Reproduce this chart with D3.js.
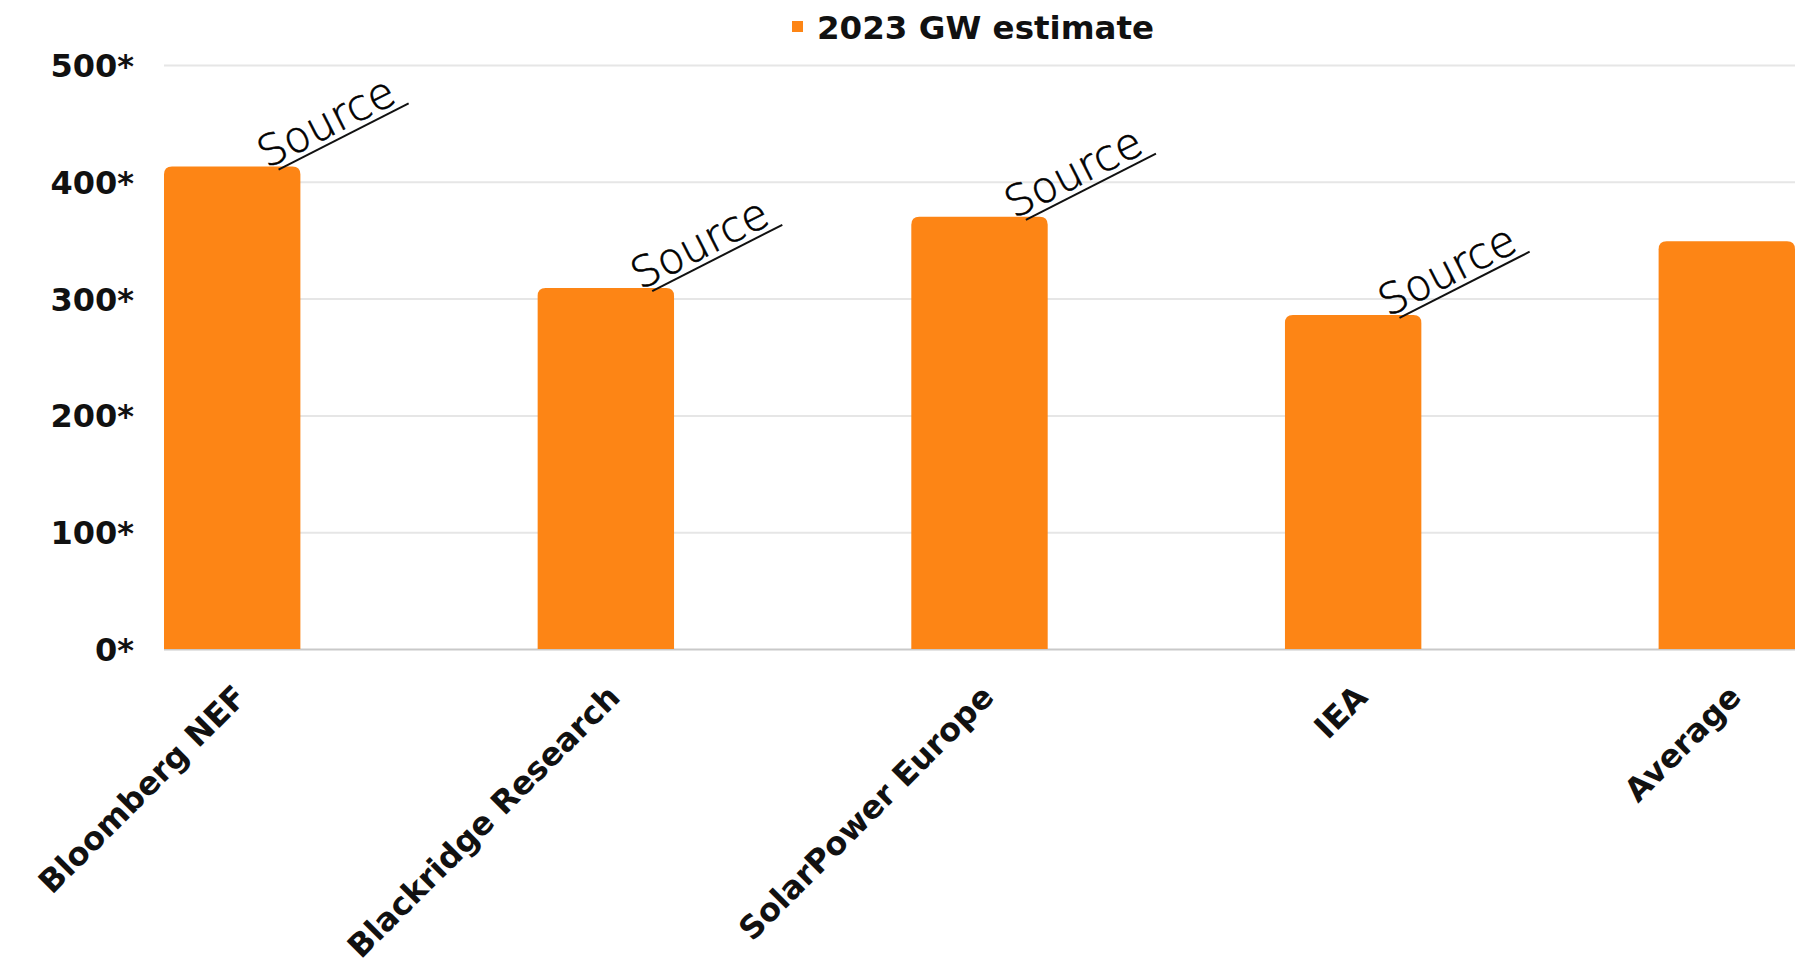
<!DOCTYPE html>
<html>
<head>
<meta charset="utf-8">
<script src="https://cdn.jsdelivr.net/npm/d3@7"></script>
<style>
  body { margin: 0; background: #fff; }
  svg { display: block; }
  .bold { font-family: 'DejaVu Sans', sans-serif; font-weight: bold; fill: #111; }
</style>
</head>
<body>
<svg class="bar-chart"></svg>
<script>
const categories = ['Bloomberg NEF', 'Blackridge Research', 'SolarPower Europe', 'IEA', 'Average'];
const gwEstimate = [413, 309, 370, 286, 349];
const sourceLinks = ['Source', 'Source', 'Source', 'Source', null];
const yTicks = [0, 100, 200, 300, 400, 500];
const seriesName = '2023 GW estimate';

const width = 1799,
      height = 969;

const plotLeft = 164,
      plotRight = 1795,
      plotTop = 65,
      plotBottom = 649;

const orange = '#fd8515';

const chart = d3.select('.bar-chart')
                .attr('width', width)
                .attr('height', height);

const xScale = d3.scaleBand()
                 .domain(categories)
                 .range([plotLeft, plotRight])
                 .paddingInner(0.635)
                 .paddingOuter(0);

const yScale = d3.scaleLinear()
                 .domain([0, 500])
                 .range([plotBottom, plotTop]);

// gridlines + y labels
const yAxis = d3.axisLeft(yScale)
                .tickValues(yTicks)
                .tickSize(-(plotRight - plotLeft))
                .tickPadding(30)
                .tickFormat(d => d + '*');

const yAxisG = chart.append('g')
                    .attr('transform', 'translate(' + plotLeft + ', 0)')
                    .call(yAxis);

yAxisG.select('.domain').remove();
yAxisG.selectAll('line')
      .attr('stroke', d => d === 0 ? '#c9c9c9' : '#e6e6e6')
      .attr('stroke-width', 2);
yAxisG.selectAll('text')
      .attr('class', 'bold')
      .attr('font-size', 32)
      .attr('dy', '0.36em');

// bars with rounded tops
const r = 8;
chart.selectAll('path.bar')
     .data(gwEstimate)
     .enter()
     .append('path')
     .attr('class', 'bar')
     .attr('fill', orange)
     .attr('d', (d, i) => {
       const x0 = xScale(categories[i]);
       const x1 = x0 + xScale.bandwidth();
       const y0 = yScale(d);
       const yb = yScale(0);
       return 'M' + x0 + ',' + yb +
              'V' + (y0 + r) +
              'Q' + x0 + ',' + y0 + ' ' + (x0 + r) + ',' + y0 +
              'H' + (x1 - r) +
              'Q' + x1 + ',' + y0 + ' ' + x1 + ',' + (y0 + r) +
              'V' + yb + 'Z';
     });

// "Source" links above bars
const src = chart.selectAll('g.source')
                 .data(gwEstimate.map((d, i) => [d, i]).filter(d => sourceLinks[d[1]]))
                 .enter()
                 .append('g')
                 .attr('class', 'source')
                 .attr('transform', d => {
                   const x = xScale(categories[d[1]]) + xScale.bandwidth() * 0.84;
                   const y = yScale(d[0]) + 3;
                   return 'translate(' + x + ',' + y + ') rotate(-27)';
                 });

src.append('text')
   .attr('x', -10)
   .attr('y', -6)
   .attr('font-family', 'DejaVu Sans, sans-serif')
   .attr('font-weight', 200)
   .attr('font-size', 43)
   .attr('fill', '#000')
   .attr('stroke', '#000')
   .attr('stroke-width', 0.6)
   .text(d => sourceLinks[d[1]]);

src.append('line')
   .attr('x1', 0)
   .attr('y1', 0)
   .attr('x2', 146)
   .attr('y2', 0)
   .attr('stroke', '#111')
   .attr('stroke-width', 2);

// x labels rotated
chart.selectAll('text.xlabel')
     .data(categories)
     .enter()
     .append('text')
     .attr('class', 'bold xlabel')
     .attr('font-size', 32)
     .attr('text-anchor', 'end')
     .attr('transform', d => 'translate(' + (xScale(d) + xScale.bandwidth() / 2 + 16) + ',' + (plotBottom + 50) + ') rotate(-45)')
     .text(d => d);

// legend
const legend = chart.append('g')
                    .attr('transform', 'translate(792, 27)');

legend.append('rect')
      .attr('x', 0)
      .attr('y', -6)
      .attr('width', 11)
      .attr('height', 11)
      .attr('fill', orange);

legend.append('text')
      .attr('class', 'bold')
      .attr('x', 25)
      .attr('dy', '0.36em')
      .attr('font-size', 32.5)
      .text(seriesName);
</script>
</body>
</html>
